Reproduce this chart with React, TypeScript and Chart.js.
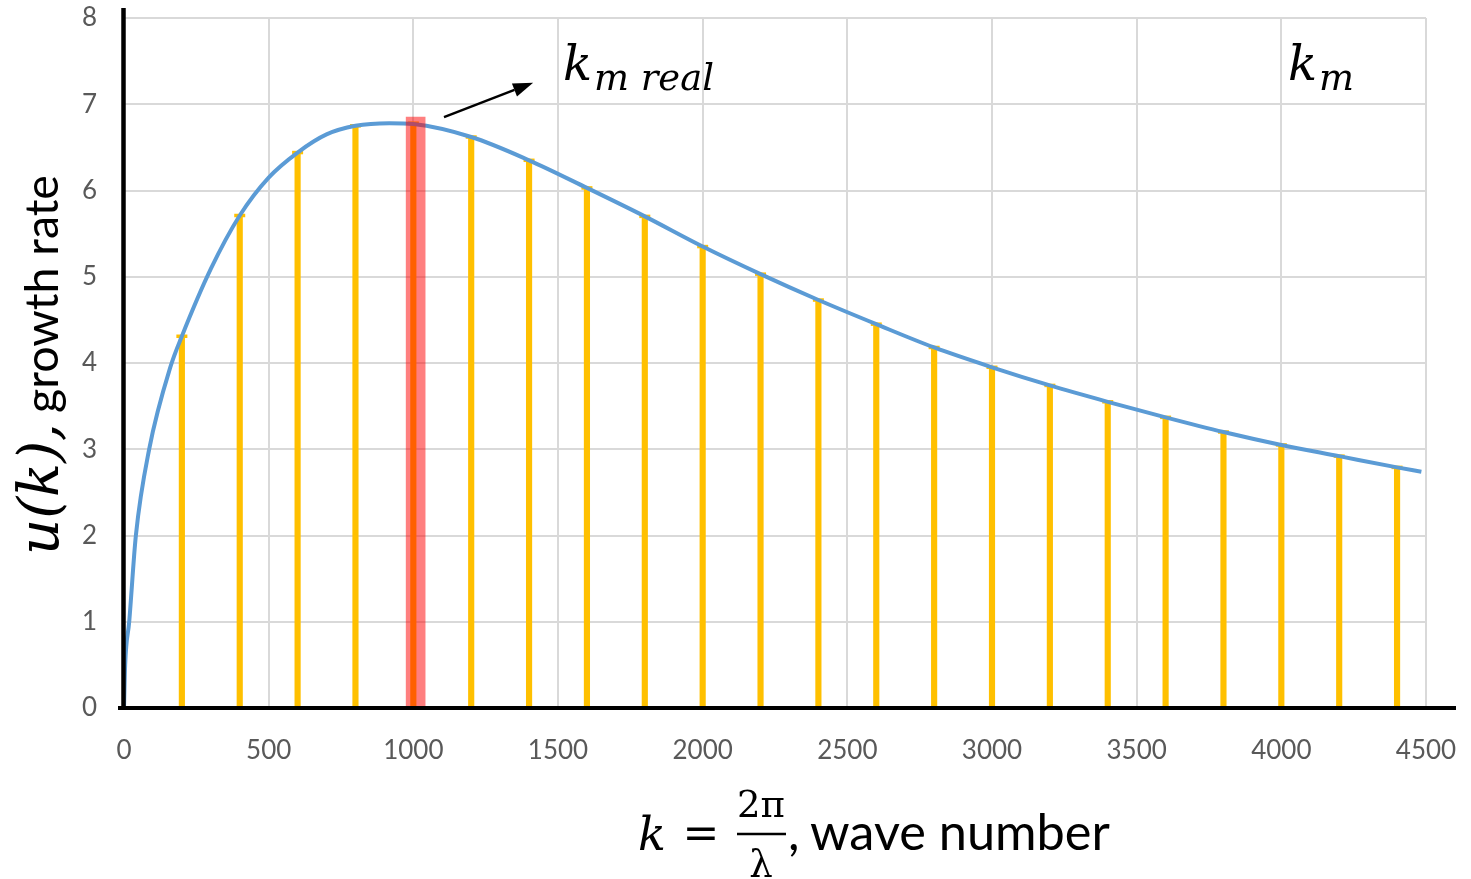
import React, { useEffect, useRef } from "react";
import { Chart, registerables } from "chart.js";

Chart.register(...registerables);

// Sampled wave numbers (stems) and their growth rates
const sampleK = [200, 400, 600, 800, 1000, 1200, 1400, 1600, 1800, 2000, 2200, 2400, 2600, 2800, 3000, 3200, 3400, 3600, 3800, 4000, 4200, 4400];
const sampleU = [4.31, 5.71, 6.44, 6.75, 6.78, 6.62, 6.35, 6.03, 5.7, 5.35, 5.03, 4.73, 4.45, 4.18, 3.95, 3.74, 3.55, 3.37, 3.2, 3.05, 2.92, 2.79];

// Continuous growth-rate curve u(k)
const curveK = [0, 4, 18, 41, 87, 161, 200, 300, 400, 500, 600, 700, 800, 917, 1000, 1200, 1400, 1600, 1800, 2000, 2200, 2400, 2600, 2800, 3000, 3200, 3400, 3600, 3800, 4000, 4200, 4400, 4484];
const curveU = [0, 0.5, 1, 2, 3, 3.96, 4.31, 5.09, 5.71, 6.15, 6.44, 6.65, 6.75, 6.78, 6.77, 6.62, 6.35, 6.03, 5.7, 5.35, 5.03, 4.73, 4.45, 4.18, 3.95, 3.74, 3.55, 3.37, 3.2, 3.05, 2.92, 2.79, 2.74];

// Observed maximum (k_m real)
const realPeakK = [1008];
const realPeakU = [6.85];

// Axis ticks
const xTickValues = [0, 500, 1000, 1500, 2000, 2500, 3000, 3500, 4000, 4500];
const yTickValues = [0, 1, 2, 3, 4, 5, 6, 7, 8];

// Annotation anchors in data units [k, u]
const arrowFrom = [1106, 6.85];
const arrowTo = [1414, 7.25];
const realPeakLabelAt = [1517, 7.28];
const theoryPeakLabelAt = [4023, 7.28];

const SANS = "Lato, 'Open Sans', sans-serif";
const MATH = "'DejaVu Serif', serif";
const TICK_COLOR = "#595959";
const STEM_COLOR = "#FFC000";

function fitSize(ctx: CanvasRenderingContext2D, text: string, font: (s: number) => string, width: number) {
  ctx.font = font(100);
  const w = ctx.measureText(text).width;
  return (100 * width) / w;
}

const axisLinesPlugin = {
  id: "axisLines",
  afterDatasetsDraw(chart: any) {
    const { ctx, chartArea } = chart;
    ctx.save();
    ctx.strokeStyle = "#000";
    ctx.lineWidth = 4.5;
    ctx.beginPath();
    ctx.moveTo(chartArea.left - 0.5, chartArea.top - 10);
    ctx.lineTo(chartArea.left - 0.5, chartArea.bottom + 2);
    ctx.stroke();
    ctx.lineWidth = 4;
    ctx.beginPath();
    ctx.moveTo(chartArea.left - 6, chartArea.bottom);
    ctx.lineTo(chartArea.right + 30, chartArea.bottom);
    ctx.stroke();
    ctx.restore();
  },
};

const titlesPlugin = {
  id: "titles",
  afterDraw(chart: any) {
    const { ctx } = chart;
    const x = chart.scales.x;
    const y = chart.scales.y;
    const px = (k: number) => x.getPixelForValue(k);
    const py = (u: number) => y.getPixelForValue(u);
    ctx.save();
    ctx.fillStyle = "#000";
    ctx.strokeStyle = "#000";
    ctx.textBaseline = "alphabetic";
    ctx.textAlign = "left";

    // Arrow pointing at the observed maximum
    const x0 = px(arrowFrom[0]);
    const y0 = py(arrowFrom[1]);
    const x1 = px(arrowTo[0]);
    const y1 = py(arrowTo[1]);
    const ang = Math.atan2(y1 - y0, x1 - x0);
    const head = 20;
    const hw = 7;
    const bx = x1 - head * Math.cos(ang);
    const by = y1 - head * Math.sin(ang);
    ctx.lineWidth = 2.5;
    ctx.beginPath();
    ctx.moveTo(x0, y0);
    ctx.lineTo(bx, by);
    ctx.stroke();
    ctx.beginPath();
    ctx.moveTo(x1, y1);
    ctx.lineTo(bx + hw * Math.sin(ang), by - hw * Math.cos(ang));
    ctx.lineTo(bx - hw * Math.sin(ang), by + hw * Math.cos(ang));
    ctx.closePath();
    ctx.fill();

    const italic = (s: number) => `italic ${s}px ${MATH}`;
    const upright = (s: number) => `${s}px ${MATH}`;
    const sans = (s: number) => `${s}px ${SANS}`;

    // k_m real
    const kSize = 48;
    const subSize = fitSize(ctx, "m real", italic, 120);
    let lx = px(realPeakLabelAt[0]);
    let ly = py(realPeakLabelAt[1]);
    ctx.font = italic(kSize);
    ctx.fillText("k", lx, ly);
    let kw = ctx.measureText("k").width;
    ctx.font = italic(subSize);
    ctx.fillText("m real", lx + kw + 2, ly + 10);

    // k_m
    lx = px(theoryPeakLabelAt[0]);
    ly = py(theoryPeakLabelAt[1]);
    ctx.font = italic(kSize);
    ctx.fillText("k", lx, ly);
    kw = ctx.measureText("k").width;
    ctx.font = italic(subSize);
    ctx.fillText("m", lx + kw + 2, ly + 10);

    // x-axis title: k = 2π/λ, wave number
    const base = 850;
    ctx.font = italic(46);
    ctx.fillText("k", 638, base);
    ctx.font = upright(44);
    ctx.textAlign = "center";
    ctx.fillText("=", 701, base - 2);
    const fracSize = fitSize(ctx, "2π", upright, 48);
    ctx.font = upright(fracSize);
    ctx.fillText("2π", 761, 817);
    ctx.fillText("λ", 761, 877);
    ctx.lineWidth = 2.5;
    ctx.beginPath();
    ctx.moveTo(737, 834);
    ctx.lineTo(786, 834);
    ctx.stroke();
    ctx.textAlign = "left";
    const waveSize = fitSize(ctx, "wave number", sans, 300);
    ctx.font = sans(waveSize);
    ctx.fillText(",", 788, base);
    ctx.fillText("wave number", 810, base);

    // y-axis title: u(k), growth rate
    ctx.save();
    ctx.translate(58, 0);
    ctx.rotate(-Math.PI / 2);
    const uSize = fitSize(ctx, "u(k),", italic, 132);
    ctx.font = italic(uSize);
    ctx.fillText("u(k),", -555, 0);
    const grSize = fitSize(ctx, "growth rate", sans, 238);
    ctx.font = sans(grSize);
    ctx.fillText("growth rate", -413, 0);
    ctx.restore();

    ctx.restore();
  },
};

export default function App() {
  const canvasRef = useRef<HTMLCanvasElement | null>(null);

  useEffect(() => {
    const canvas = canvasRef.current;
    if (!canvas) return;

    const stems = sampleK.map((k, i) => ({ x: k, y: sampleU[i] }));
    const caps = [
      ...sampleK.map((k, i) => ({ x: k, y: sampleU[i] })),
      ...sampleK.map((k) => ({ x: k, y: 0 })),
    ];
    const curve = curveK.map((k, i) => ({ x: k, y: curveU[i] }));
    const realPeak = realPeakK.map((k, i) => ({ x: k, y: realPeakU[i] }));

    const tickFont = { family: SANS, size: 26 };
    const gridStyle = { color: "#D9D9D9", lineWidth: 2, drawTicks: false, offset: false };

    const chart = new Chart(canvas, {
      type: "scatter",
      data: {
        datasets: [
          {
            type: "bar",
            label: "k_m real",
            data: realPeak,
            backgroundColor: "rgba(255, 0, 0, 0.5)",
            barThickness: 19,
            grouped: false,
            order: 0,
          } as any,
          {
            type: "scatter",
            label: "u(k)",
            data: curve,
            showLine: true,
            borderColor: "#5B9BD5",
            borderWidth: 4,
            pointRadius: 0,
            cubicInterpolationMode: "monotone",
            order: 1,
          } as any,
          {
            type: "scatter",
            label: "caps",
            data: caps,
            pointStyle: "line",
            pointRadius: 5.5,
            pointBorderWidth: 3.5,
            pointBorderColor: STEM_COLOR,
            pointBackgroundColor: STEM_COLOR,
            borderColor: STEM_COLOR,
            backgroundColor: STEM_COLOR,
            order: 2,
          } as any,
          {
            type: "bar",
            label: "samples",
            data: stems,
            backgroundColor: STEM_COLOR,
            barThickness: 5.5,
            grouped: false,
            order: 3,
          } as any,
        ],
      },
      options: {
        animation: false,
        responsive: true,
        maintainAspectRatio: false,
        layout: { padding: { top: 18, right: 45, bottom: 0, left: 0 } },
        plugins: {
          legend: { display: false },
          tooltip: { enabled: false },
        },
        scales: {
          x: {
            type: "linear",
            min: 0,
            max: 4500,
            offset: false,
            afterBuildTicks: (s: any) => {
              s.ticks = xTickValues.map((v) => ({ value: v }));
            },
            afterFit: (s: any) => {
              s.height = 171;
              s.paddingLeft = 0;
              s.paddingRight = 0;
            },
            ticks: {
              font: tickFont,
              color: TICK_COLOR,
              padding: 27,
              maxRotation: 0,
              autoSkip: false,
              callback: (v: any) => String(v),
            },
            grid: gridStyle,
            border: { display: false },
          },
          y: {
            type: "linear",
            min: 0,
            max: 8,
            afterBuildTicks: (s: any) => {
              s.ticks = yTickValues.map((v) => ({ value: v }));
            },
            afterFit: (s: any) => {
              s.width = 124;
              s.paddingTop = 0;
              s.paddingBottom = 0;
            },
            ticks: { font: tickFont, color: TICK_COLOR, padding: 27, callback: (v: any) => String(v) },
            grid: gridStyle,
            border: { display: false },
          },
        },
      } as any,
      plugins: [axisLinesPlugin, titlesPlugin],
    });

    return () => chart.destroy();
  }, []);

  return (
    <div style={{ position: "fixed", left: 0, top: 0, width: 1471, height: 879, background: "#fff" }}>
      <canvas ref={canvasRef} />
    </div>
  );
}
